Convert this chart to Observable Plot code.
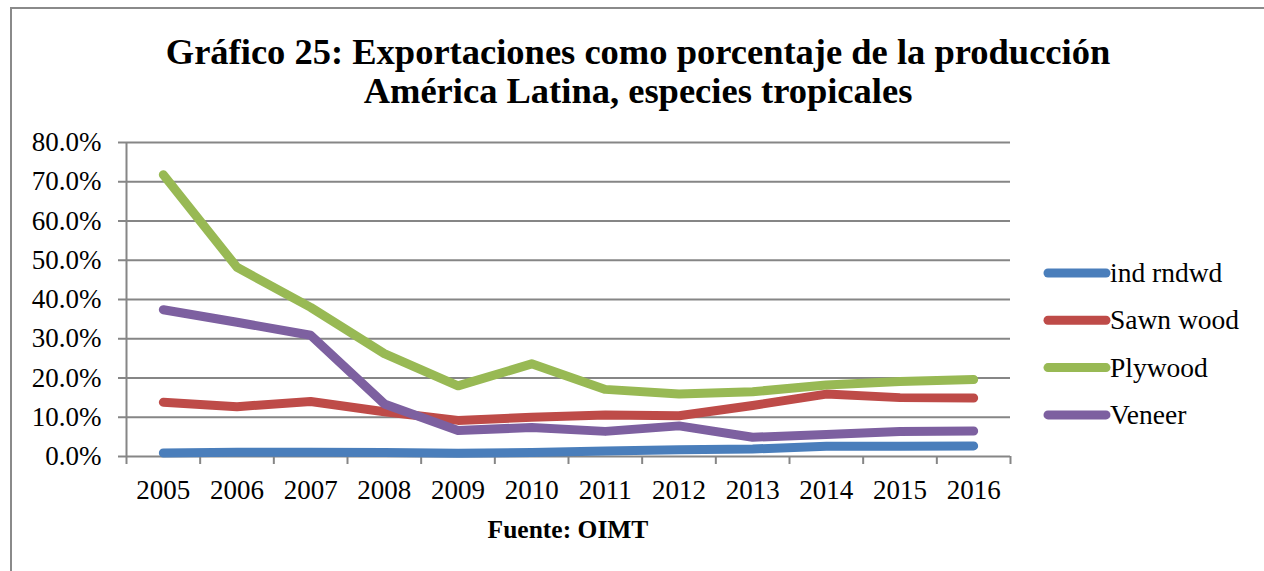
<!DOCTYPE html>
<html>
<head>
<meta charset="utf-8">
<script src="https://cdn.jsdelivr.net/npm/d3@7"></script>
<script src="https://cdn.jsdelivr.net/npm/@observablehq/plot@0.6"></script>
<style>
  html, body { margin: 0; padding: 0; background: #fff; overflow: hidden; }
  #wrap { position: relative; width: 1264px; height: 571px; overflow: hidden; }
  #frame { position: absolute; left: 10px; top: 7px; width: 1400px; height: 700px; border: 2px solid #8a8a8a; box-sizing: border-box; }
  #chart { position: absolute; left: 0; top: 0; }
  #overlay { position: absolute; left: 0; top: 0; }
</style>
</head>
<body>
<div id="wrap">
  <div id="frame"></div>
  <div id="chart"></div>
  <svg id="overlay" width="1264" height="571"></svg>
</div>
<script>
const years = [2005, 2006, 2007, 2008, 2009, 2010, 2011, 2012, 2013, 2014, 2015, 2016];
const seriesNames = ["ind rndwd", "Sawn wood", "Plywood", "Veneer"];
const seriesColors = ["#4A7EBB", "#BE4B48", "#98B954", "#7D60A0"];
const indRndwd = [0.9, 1.1, 1.1, 1.0, 0.8, 1.0, 1.4, 1.7, 1.9, 2.6, 2.6, 2.7];
const sawnWood = [13.8, 12.7, 14.0, 11.4, 9.2, 10.0, 10.6, 10.4, 13.0, 15.9, 15.0, 14.9];
const plywood = [71.8, 48.2, 38.0, 26.2, 18.0, 23.6, 17.1, 15.9, 16.5, 18.2, 19.1, 19.6];
const veneer = [37.4, 34.2, 30.9, 13.4, 6.6, 7.4, 6.4, 7.8, 4.9, 5.6, 6.4, 6.5];
const yTicks = [0, 10, 20, 30, 40, 50, 60, 70, 80];
const titleLines = ["Gráfico 25: Exportaciones como porcentaje de la producción", "América Latina, especies tropicales"];
const caption = "Fuente: OIMT";

const seriesValues = [indRndwd, sawnWood, plywood, veneer];
const table = seriesNames.flatMap((name, i) =>
  years.map((year, j) => ({series: name, year, value: seriesValues[i][j]}))
);
const bounds = [...years.map(y => y - 0.5), years[years.length - 1] + 0.5];
const gray = "#868686";
const font = "'Liberation Serif', serif";

const chart = Plot.plot({
  width: 1264,
  height: 571,
  marginLeft: 126,
  marginRight: 254,
  marginTop: 142,
  marginBottom: 115,
  style: {fontFamily: font, background: "transparent", color: "#000"},
  x: {domain: [bounds[0], bounds[bounds.length - 1]]},
  y: {domain: [0, 80]},
  marks: [
    Plot.ruleY(yTicks.slice(1), {stroke: gray, strokeWidth: 2}),
    Plot.ruleX([bounds[0]], {stroke: gray, strokeWidth: 2}),
    Plot.ruleY([0], {stroke: gray, strokeWidth: 2}),
    Plot.axisY({ticks: yTicks, tickSize: 8, tickPadding: 17, tickFormat: d => d.toFixed(1) + "%",
      fontSize: 27, stroke: gray, strokeWidth: 2, fill: "#000", label: null}),
    Plot.axisX({ticks: bounds, tickSize: 8, tickFormat: () => "", stroke: gray, strokeWidth: 2, label: null}),
    Plot.axisX({ticks: years, tickSize: 0, tickPadding: 23, tickFormat: d => String(d),
      fontSize: 27, fill: "#000", label: null}),
    Plot.line(table, {x: "year", y: "value", z: "series",
      stroke: d => seriesColors[seriesNames.indexOf(d.series)],
      strokeWidth: 9, strokeLinecap: "round", strokeLinejoin: "round"})
  ]
});
document.getElementById("chart").appendChild(chart);

const ov = d3.select("#overlay");
ov.selectAll("text.title").data(titleLines).join("text")
  .attr("class", "title")
  .attr("x", 638).attr("y", (d, i) => 64 + i * 39)
  .attr("text-anchor", "middle")
  .attr("font-family", font).attr("font-weight", "bold").attr("font-size", 36.5)
  .text(d => d);
ov.append("text")
  .attr("x", 568).attr("y", 538).attr("text-anchor", "middle")
  .attr("font-family", font).attr("font-weight", "bold").attr("font-size", 25.5)
  .text(caption);
const leg = ov.selectAll("g.leg").data(seriesNames).join("g")
  .attr("class", "leg")
  .attr("transform", (d, i) => `translate(0, ${273 + i * 47.3})`);
leg.append("line").attr("x1", 1048).attr("x2", 1106).attr("y1", 0).attr("y2", 0)
  .attr("stroke", (d, i) => seriesColors[i]).attr("stroke-width", 9).attr("stroke-linecap", "round");
leg.append("text").attr("x", 1110).attr("y", 9)
  .attr("font-family", font).attr("font-size", 27.5).text(d => d);
</script>
</body>
</html>
